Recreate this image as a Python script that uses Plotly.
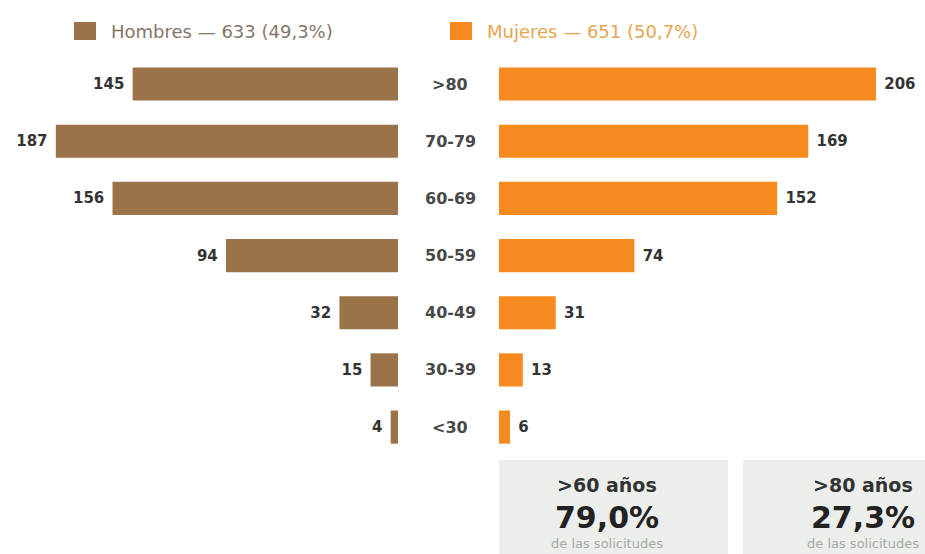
import plotly.graph_objects as go

# Age groups, bottom to top
grupos = ["<30", "30-39", "40-49", "50-59", "60-69", "70-79", ">80"]
hombres = [4, 15, 32, 94, 156, 187, 145]
mujeres = [6, 13, 31, 74, 152, 169, 206]

leyenda_h = "Hombres — 633 (49,3%)"
leyenda_m = "Mujeres — 651 (50,7%)"

resumen = [
    (">60 años", "79,0%", "de las solicitudes"),
    (">80 años", "27,3%", "de las solicitudes"),
]

C_H = "#9b7349"
C_M = "#f68a1f"
FONT = "DejaVu Sans"
W, H = 925, 554
PX_PER_UNIT = 1.83
NB = "\u00a0"

fig = go.Figure()
fig.add_trace(go.Bar(
    y=grupos, x=hombres, orientation="h", xaxis="x", yaxis="y",
    marker=dict(color=C_H, line=dict(width=0)),
    text=[f"{v}{NB}" for v in hombres], textposition="outside", cliponaxis=False,
    textfont=dict(family=FONT, size=15, color="#333333", weight="bold"),
    showlegend=False, hoverinfo="skip",
))
fig.add_trace(go.Bar(
    y=grupos, x=mujeres, orientation="h", xaxis="x2", yaxis="y",
    marker=dict(color=C_M, line=dict(width=0)),
    text=[f"{NB}{v}" for v in mujeres], textposition="outside", cliponaxis=False,
    textfont=dict(family=FONT, size=15, color="#333333", weight="bold"),
    showlegend=False, hoverinfo="skip",
))

left_end, right_start = 398, 499
fig.update_layout(
    width=W, height=H,
    margin=dict(l=0, r=0, t=0, b=0),
    paper_bgcolor="white", plot_bgcolor="white",
    bargap=0.42,
    font=dict(family=FONT),
    xaxis=dict(domain=[0, left_end / W], range=[left_end / PX_PER_UNIT, 0],
               visible=False, fixedrange=True),
    xaxis2=dict(domain=[right_start / W, 1], range=[0, (W - right_start) / PX_PER_UNIT],
                visible=False, fixedrange=True),
    yaxis=dict(domain=[0, 1], range=[-2.22, 7.47], visible=False,
               type="category", categoryorder="array", categoryarray=grupos),
)

# Age labels in the central gutter
for g in grupos:
    fig.add_annotation(x=450 / W, xref="paper", y=g, yref="y", text=f"<b>{g}</b>",
                       showarrow=False, xanchor="center", yanchor="middle",
                       font=dict(family=FONT, size=16, color="#484848"))

# Legend entries
legend_y = 1 - 31 / H
for x0, col, txt, tcol in [(74, C_H, leyenda_h, "#85766a"),
                           (450, C_M, leyenda_m, "#e3a652")]:
    fig.add_shape(type="rect", xref="paper", yref="paper",
                  x0=x0 / W, x1=(x0 + 22) / W,
                  y0=1 - 40 / H, y1=1 - 22 / H,
                  fillcolor=col, line=dict(width=0))
    fig.add_annotation(x=(x0 + 35) / W, y=legend_y, xref="paper", yref="paper",
                       text=txt, showarrow=False, xanchor="left", yanchor="middle",
                       font=dict(family=FONT, size=18, color=tcol))

# Summary boxes
for (x0, x1, cxp), (titulo, valor, nota) in zip([(499, 728, 607), (743, 990, 863)], resumen):
    fig.add_shape(type="rect", xref="paper", yref="paper",
                  x0=x0 / W, x1=x1 / W, y0=-0.05, y1=1 - 460 / H,
                  fillcolor="#eceeeb", line=dict(width=0), layer="below")
    cx = cxp / W
    fig.add_annotation(x=cx, y=1 - 485 / H, xref="paper", yref="paper",
                       text=f"<b>{titulo}</b>", showarrow=False,
                       xanchor="center", yanchor="middle",
                       font=dict(family=FONT, size=19, color="#333333"))
    fig.add_annotation(x=cx, y=1 - 517 / H, xref="paper", yref="paper",
                       text=f"<b>{valor}</b>", showarrow=False,
                       xanchor="center", yanchor="middle",
                       font=dict(family=FONT, size=30, color="#222222"))
    fig.add_annotation(x=cx, y=1 - 543 / H, xref="paper", yref="paper",
                       text=nota, showarrow=False,
                       xanchor="center", yanchor="middle",
                       font=dict(family=FONT, size=13, color="#a8a8a8"))

fig.write_html("out.html")
